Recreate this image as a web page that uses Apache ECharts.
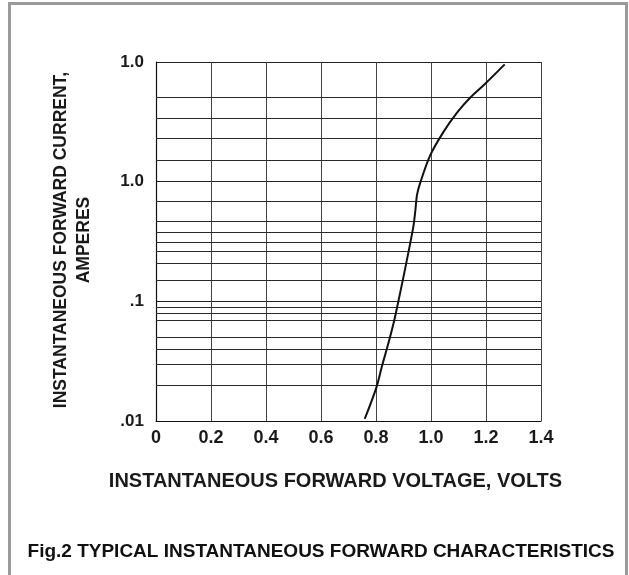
<!DOCTYPE html>
<html>
<head>
<meta charset="utf-8">
<script src="https://cdn.jsdelivr.net/npm/echarts@6/dist/echarts.min.js"></script>
<style>
html,body{margin:0;padding:0;background:#fff;}
#chart{width:629px;height:575px;}
</style>
</head>
<body>
<div id="chart"></div>
<script>
// ---- data ----
var voltage = [0.759, 0.801, 0.822, 0.844, 0.870, 0.934, 0.943, 0.949, 0.961, 0.997, 1.046, 1.094, 1.143, 1.197, 1.268];
var current = [0.0104, 0.0189, 0.0289, 0.0437, 0.0755, 0.397, 0.570, 0.772, 0.982, 1.66, 2.62, 3.76, 5.05, 6.58, 9.55];

var xTickValues = [0, 0.2, 0.4, 0.6, 0.8, 1.0, 1.2, 1.4];
var xTickLabels = ['0', '0.2', '0.4', '0.6', '0.8', '1.0', '1.2', '1.4'];
var yTickValues = [0.01, 0.1, 1, 10];
var yTickLabels = ['.01', '.1', '1.0', '1.0'];
// extra horizontal rulings of the printed grid (values on the current axis)
var gridLineValues = [5.12, 3.39, 2.29, 1.51, 0.684, 0.467, 0.383, 0.313, 0.257, 0.214, 0.149,
                      0.0869, 0.0755, 0.0657, 0.0538, 0.0440, 0.0353, 0.0289, 0.0190];

var yTitle1 = 'INSTANTANEOUS FORWARD CURRENT,';
var yTitle2 = 'AMPERES';
var xTitle = 'INSTANTANEOUS FORWARD VOLTAGE, VOLTS';
var caption = 'Fig.2 TYPICAL INSTANTANEOUS FORWARD CHARACTERISTICS';

// ---- chart ----
var FONT = '"Liberation Sans", Arial, Helvetica, sans-serif';
var chart = echarts.init(document.getElementById('chart'), null, {renderer: 'canvas'});

var curve = voltage.map(function (v, i) { return [v, current[i]]; });

function yLabel(val) {
  var best = 0, bd = Infinity;
  for (var i = 0; i < yTickValues.length; i++) {
    var d = Math.abs(Math.log10(val) - Math.log10(yTickValues[i]));
    if (d < bd) { bd = d; best = i; }
  }
  return bd < 0.01 ? yTickLabels[best] : '';
}
function xLabel(val) {
  for (var i = 0; i < xTickValues.length; i++) {
    if (Math.abs(val - xTickValues[i]) < 1e-6) return xTickLabels[i];
  }
  return '';
}

var option = {
  animation: false,
  backgroundColor: '#fff',
  grid: {left: 156, right: 88, top: 62, bottom: 154, containLabel: false},
  xAxis: {
    type: 'value',
    min: 0, max: 1.4, interval: 0.2,
    axisLine: {show: true, lineStyle: {color: '#111', width: 1.2}},
    axisTick: {show: false},
    splitLine: {show: true, lineStyle: {color: '#444', width: 1}},
    axisLabel: {
      formatter: xLabel, margin: 8,
      color: '#1a1a1a', fontFamily: FONT, fontWeight: 'bold', fontSize: 18
    }
  },
  yAxis: {
    type: 'log', logBase: 10,
    min: 0.01, max: 10, interval: 1,
    axisLine: {show: true, lineStyle: {color: '#111', width: 1.2}},
    axisTick: {show: false},
    minorTick: {show: false},
    minorSplitLine: {show: false},
    splitLine: {show: true, lineStyle: {color: '#222', width: 1}},
    axisLabel: {
      formatter: yLabel, margin: 12,
      color: '#1a1a1a', fontFamily: FONT, fontWeight: 'bold', fontSize: 17
    }
  },
  series: [{
    type: 'line',
    data: curve,
    smooth: 0.3,
    symbol: 'none',
    lineStyle: {color: '#111', width: 2},
    z: 5,
    markLine: {
      silent: true,
      symbol: ['none', 'none'],
      label: {show: false},
      lineStyle: {color: '#2a2a2a', width: 1, type: 'solid'},
      emphasis: {disabled: true},
      data: gridLineValues.map(function (v) { return {yAxis: v}; })
    }
  }],
  graphic: [
    {
      type: 'rect', silent: true,
      shape: {x: 9.5, y: 3.5, width: 617, height: 620},
      style: {fill: 'none', stroke: '#9a9a9a', lineWidth: 3}
    },
    {
      type: 'text', x: 61, y: 240, rotation: Math.PI / 2,
      style: {text: yTitle1, fill: '#1a1a1a', font: 'bold 17.5px ' + FONT,
              textAlign: 'center', textVerticalAlign: 'middle'}
    },
    {
      type: 'text', x: 84, y: 240, rotation: Math.PI / 2,
      style: {text: yTitle2, fill: '#1a1a1a', font: 'bold 17.5px ' + FONT,
              textAlign: 'center', textVerticalAlign: 'middle'}
    },
    {
      type: 'text', x: 335.5, y: 481.5,
      style: {text: xTitle, fill: '#1a1a1a', font: 'bold 20px ' + FONT,
              textAlign: 'center', textVerticalAlign: 'middle'}
    },
    {
      type: 'text', x: 321, y: 552,
      style: {text: caption, fill: '#111', font: 'bold 19px ' + FONT,
              textAlign: 'center', textVerticalAlign: 'middle'}
    }
  ]
};
chart.setOption(option);
</script>
</body>
</html>
